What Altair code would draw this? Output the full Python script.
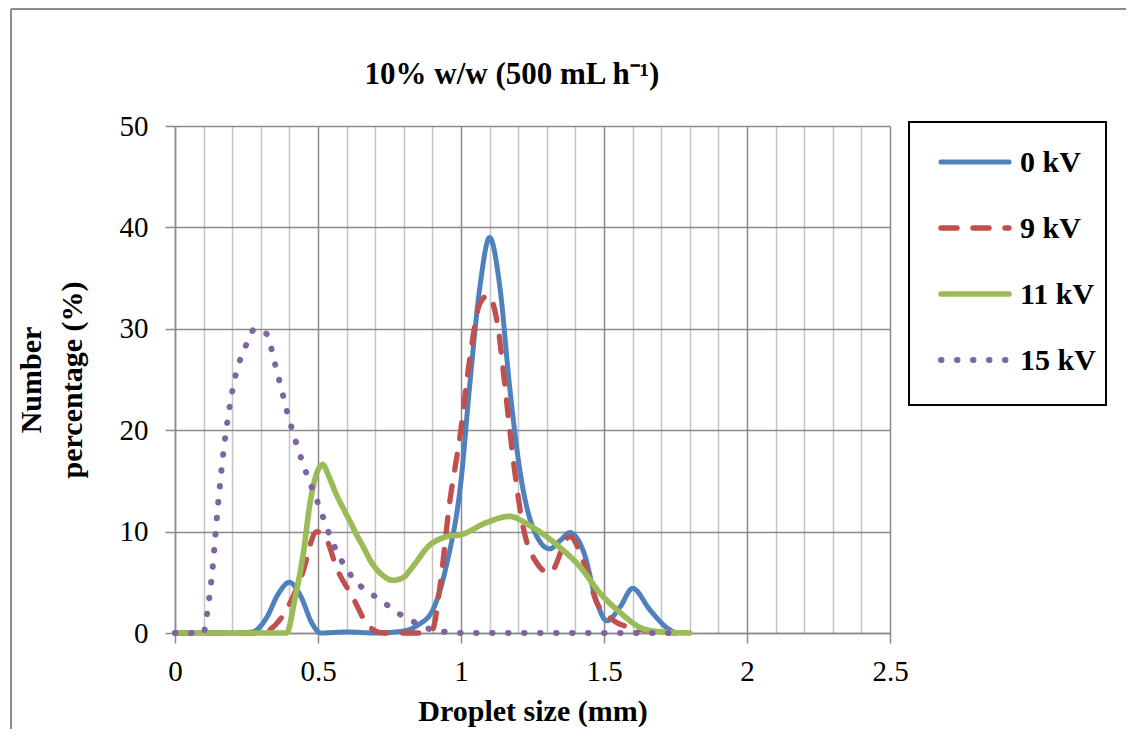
import altair as alt
import pandas as pd

# ---- data ----
series_names = ["0 kV", "9 kV", "11 kV", "15 kV"]

x_0kv = [0, 0.1, 0.2, 0.27, 0.32, 0.36, 0.4, 0.44, 0.48, 0.51, 0.6, 0.7, 0.8, 0.85, 0.9, 0.95,
         1.0, 1.03, 1.066, 1.1, 1.136, 1.17, 1.206, 1.25, 1.31, 1.35, 1.38, 1.43, 1.475, 1.51,
         1.557, 1.6, 1.66, 1.72, 1.75]
y_0kv = [0, 0, 0, 0.1, 1.5, 3.8, 5.0, 3.6, 0.9, 0, 0.1, 0, 0.2, 0.8, 2.2, 6.8,
         15.0, 24.3, 34.1, 39.0, 34.1, 24.3, 16.0, 10.5, 8.3, 9.2, 9.9, 7.9, 3.0, 1.2,
         2.6, 4.4, 2.3, 0.5, 0]

x_9kv = [0, 0.1, 0.2, 0.3, 0.33, 0.39, 0.446, 0.494, 0.53, 0.564, 0.62, 0.68, 0.73, 0.8, 0.87,
         0.9, 0.926, 0.96, 0.996, 1.03, 1.066, 1.095, 1.125, 1.16, 1.18, 1.217, 1.265, 1.31,
         1.38, 1.43, 1.475, 1.53, 1.6, 1.75]
y_9kv = [0, 0, 0, 0, 0.3, 2.3, 5.9, 10.0, 9.2, 6.5, 3.6, 0.6, 0, 0, 0,
         0.3, 4.5, 12.8, 19.3, 26.9, 32.5, 33.3, 30.9, 22.7, 17.7, 10.5, 6.9, 5.9,
         9.5, 6.9, 3.0, 1.3, 0.5, 0]

x_11kv = [0, 0.1, 0.2, 0.3, 0.39, 0.42, 0.449, 0.472, 0.495, 0.516, 0.54, 0.565, 0.59, 0.612,
          0.635, 0.66, 0.682, 0.73, 0.763, 0.8, 0.822, 0.892, 0.95, 1.0, 1.09, 1.17, 1.24, 1.335,
          1.417, 1.487, 1.557, 1.63, 1.7, 1.8]
y_11kv = [0, 0, 0, 0, 0, 3.5, 7.9, 12.8, 15.7, 16.6, 15.3, 13.6, 12.2, 11.0,
          9.7, 8.4, 7.2, 5.6, 5.2, 5.5, 6.2, 8.7, 9.5, 9.7, 10.9, 11.5, 10.6, 8.7,
          6.5, 3.9, 2.0, 0.5, 0.1, 0]

x_15kv = [0, 0.1, 0.11, 0.13, 0.15, 0.17, 0.2, 0.25, 0.28, 0.32, 0.35, 0.4, 0.45, 0.5, 0.55,
          0.6, 0.65, 0.7, 0.75, 0.8, 0.85, 0.9, 0.95, 1.0, 1.75]
y_15kv = [0, 0, 1.5, 6.0, 12.5, 18.0, 23.8, 28.5, 30.0, 29.5, 26.5, 21.0, 16.5, 12.8, 9.0,
          6.3, 4.6, 3.6, 2.6, 1.6, 0.9, 0.3, 0.1, 0, 0]

x_ticks = [0, 0.1, 0.2, 0.3, 0.4, 0.5, 0.6, 0.7, 0.8, 0.9, 1.0, 1.1, 1.2, 1.3, 1.4, 1.5,
           1.6, 1.7, 1.8, 1.9, 2.0, 2.1, 2.2, 2.3, 2.4, 2.5]
y_ticks = [0, 10, 20, 30, 40, 50]

title_text = "10% w/w (500 mL h⁻¹)"

colors = ["#4F81BD", "#C0504D", "#9BBB59", "#8064A2"]
dashes = [[1, 0], [16, 16], [1, 0], [0.5, 15.5]]
widths = [5, 6, 7, 6.5]

rows = []
for name, xs, ys in zip(series_names, [x_0kv, x_9kv, x_11kv, x_15kv], [y_0kv, y_9kv, y_11kv, y_15kv]):
    for i, (a, b) in enumerate(zip(xs, ys)):
        rows.append({"series": name, "x": a, "y": b, "order": i})
df = pd.DataFrame(rows)
leg_df = pd.DataFrame({"series": series_names, "row": list(range(len(series_names)))})

FONT = "Liberation Serif"
major = "abs(datum.value*2 - round(datum.value*2)) < 0.001"

color_enc = alt.Color("series:N", scale=alt.Scale(domain=series_names, range=colors), legend=None)
dash_enc = alt.StrokeDash("series:N", scale=alt.Scale(domain=series_names, range=dashes), legend=None)
width_enc = alt.StrokeWidth("series:N", scale=alt.Scale(domain=series_names, range=widths), legend=None)

lines = alt.Chart(df).mark_line(interpolate="monotone", strokeCap="round", strokeJoin="round").encode(
    x=alt.X("x:Q", scale=alt.Scale(domain=[0, 2.5], nice=False),
            axis=alt.Axis(values=x_ticks, title="Droplet size (mm)", labelFlush=False,
                          labelExpr=f"{major} ? format(datum.value, '~g') : ''",
                          gridColor={"condition": {"test": major, "value": "#8a8a8a"}, "value": "#c4c4c4"},
                          tickOpacity={"condition": {"test": major, "value": 1}, "value": 0},
                          labelPadding=14, titlePadding=10)),
    y=alt.Y("y:Q", scale=alt.Scale(domain=[0, 50], nice=False),
            axis=alt.Axis(values=y_ticks, title=["Number", "percentage (%)"],
                          labelPadding=17, titlePadding=32, titleLineHeight=41)),
    color=color_enc, strokeDash=dash_enc, strokeWidth=width_enc,
    order="order:Q",
)

one = pd.DataFrame({"f": [0]})
frame_left = alt.Chart(one).mark_rule(color="#8c8c8c", strokeWidth=2).encode(
    x=alt.value(-164), y=alt.value(-117), y2=alt.value(900))
frame_top = alt.Chart(one).mark_rule(color="#8c8c8c", strokeWidth=2).encode(
    x=alt.value(-164), x2=alt.value(1300), y=alt.value(-117))
title = alt.Chart(one).mark_text(
    font=FONT, fontSize=31, fontWeight="bold", color="black", align="center", baseline="alphabetic"
).encode(x=alt.value(337), y=alt.value(-42), text=alt.value(title_text))

# legend drawn as marks (box, sample lines with round caps, labels)
leg_box = alt.Chart(one).mark_rect(fillOpacity=0, stroke="black", strokeWidth=2).encode(
    x=alt.value(734), x2=alt.value(931), y=alt.value(-4), y2=alt.value(279))
leg_base = alt.Chart(leg_df).transform_calculate(py="36 + 66*datum.row")
leg_lines = leg_base.mark_rule(strokeCap="round").encode(
    x=alt.value(766), x2=alt.value(834), y=alt.Y("py:Q", scale=None, axis=None),
    color=color_enc, strokeDash=dash_enc, strokeWidth=width_enc)
leg_text = leg_base.mark_text(
    font=FONT, fontSize=30, fontWeight="bold", color="black", align="left", baseline="middle", dy=1
).encode(x=alt.value(845), y=alt.Y("py:Q", scale=None, axis=None), text="series:N")

chart = alt.layer(frame_left, frame_top, title, lines, leg_box, leg_lines, leg_text).properties(
    width=715, height=507,
    padding={"left": 167, "top": 118, "right": 236, "bottom": 96},
    autosize=alt.AutoSizeParams(type="none"),
).configure_view(stroke=None).configure_axis(
    labelFont=FONT, labelFontSize=29, labelColor="black",
    titleFont=FONT, titleFontSize=30, titleFontWeight="bold", titleColor="black",
    gridColor="#8a8a8a", gridWidth=1.5, domainColor="#8a8a8a", domainWidth=1.5,
    tickColor="#8a8a8a", tickWidth=1.5, tickSize=10,
)

chart.save("out.html", embed_options={"renderer": "svg", "actions": False})
